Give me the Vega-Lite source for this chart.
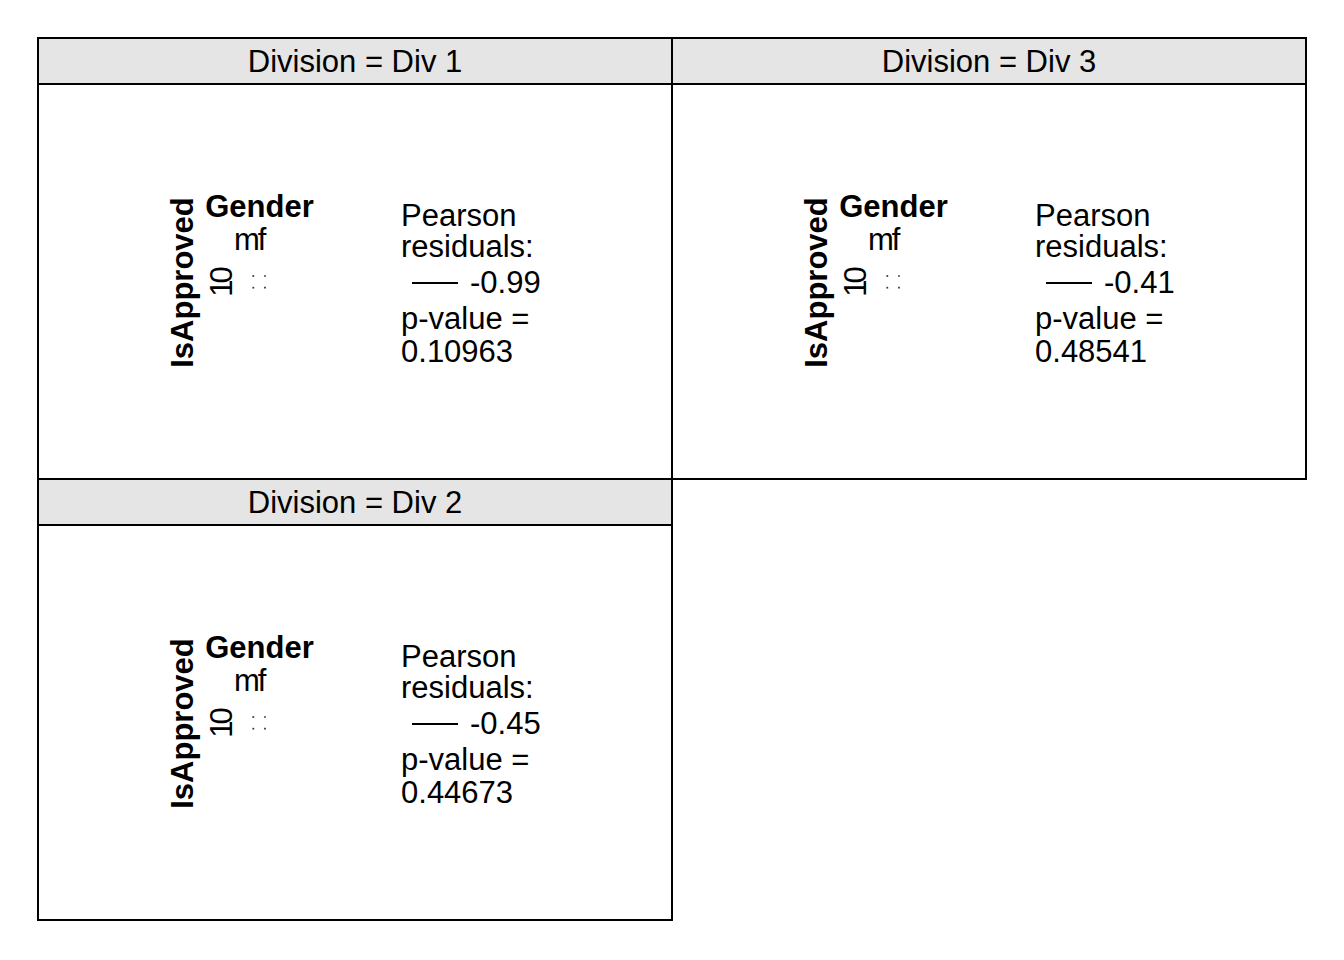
{
  "$schema": "https://vega.github.io/schema/vega-lite/v6.json",
  "background": "white",
  "padding": {"left": 36, "top": 36, "right": 0, "bottom": 0},
  "bounds": "flush",
  "config": {
    "view": {"stroke": "black", "strokeWidth": 2},
    "font": "Liberation Sans",
    "locale": {"number": {"decimal": ".", "thousands": ",", "grouping": [3], "currency": ["$", ""], "minus": "-"}},
    "text": {"font": "Liberation Sans", "fontSize": 31, "color": "black"},
    "facet": {"spacing": 0}
  },
  "data": {
    "values": [
      {"Division": "Div 1", "residual": -0.99, "p": 0.10963},
      {"Division": "Div 3", "residual": -0.41, "p": 0.48541},
      {"Division": "Div 2", "residual": -0.45, "p": 0.44673},
      {"Division": "Div 1", "Gender": "m", "IsApproved": "1"},
      {"Division": "Div 1", "Gender": "f", "IsApproved": "1"},
      {"Division": "Div 1", "Gender": "m", "IsApproved": "0"},
      {"Division": "Div 1", "Gender": "f", "IsApproved": "0"},
      {"Division": "Div 3", "Gender": "m", "IsApproved": "1"},
      {"Division": "Div 3", "Gender": "f", "IsApproved": "1"},
      {"Division": "Div 3", "Gender": "m", "IsApproved": "0"},
      {"Division": "Div 3", "Gender": "f", "IsApproved": "0"},
      {"Division": "Div 2", "Gender": "m", "IsApproved": "1"},
      {"Division": "Div 2", "Gender": "f", "IsApproved": "1"},
      {"Division": "Div 2", "Gender": "m", "IsApproved": "0"},
      {"Division": "Div 2", "Gender": "f", "IsApproved": "0"}
    ]
  },
  "facet": {"field": "Division", "type": "nominal", "sort": ["Div 1", "Div 3", "Div 2"], "title": null, "header": {"labelExpr": "''", "labelFontSize": 0, "labelColor": "transparent", "labelPadding": 0, "title": null}},
  "columns": 2,
  "spacing": 0,
  "spec": {
    "width": 634,
    "height": 441,
    "layer": [
      {
        "transform": [{"filter": {"field": "p", "valid": true}}],
        "mark": {"type": "rect", "fill": "#e5e5e5", "stroke": "black", "strokeWidth": 2},
        "encoding": {
          "x": {"datum": 0, "type": "quantitative", "scale": {"domain": [0, 1], "nice": false, "zero": false}, "axis": null},
          "x2": {"datum": 1},
          "y": {"datum": 0, "type": "quantitative", "scale": {"domain": [0, 1], "nice": false, "zero": false, "reverse": true}, "axis": null},
          "y2": {"datum": 0.1043}
        }
      },
      {
        "transform": [{"filter": {"field": "p", "valid": true}}, {"calculate": "'Division = ' + datum.Division", "as": "strip"}],
        "mark": {"type": "text", "align": "center", "baseline": "alphabetic"},
        "encoding": {
          "x": {"datum": 0.5, "type": "quantitative"},
          "y": {"datum": 0.0771, "type": "quantitative"},
          "text": {"field": "strip", "type": "nominal"}
        }
      },
      {
        "transform": [{"filter": {"field": "p", "valid": true}}],
        "mark": {"type": "text", "align": "center", "baseline": "alphabetic", "fontWeight": "bold", "text": "Gender"},
        "encoding": {
          "x": {"datum": 0.3494, "type": "quantitative"},
          "y": {"datum": 0.4059, "type": "quantitative"}
        }
      },
      {
        "transform": [{"filter": {"field": "p", "valid": true}}],
        "mark": {"type": "text", "align": "center", "baseline": "middle", "fontWeight": "bold", "angle": 270, "text": "IsApproved"},
        "encoding": {
          "x": {"datum": 0.2300, "type": "quantitative"},
          "y": {"datum": 0.5544, "type": "quantitative"}
        }
      },
      {
        "transform": [{"filter": "datum.Gender == 'm' && datum.IsApproved == '1'"}],
        "mark": {"type": "text", "align": "center", "baseline": "alphabetic"},
        "encoding": {
          "x": {"datum": 0.3297, "type": "quantitative"},
          "y": {"datum": 0.4807, "type": "quantitative"},
          "text": {"field": "Gender", "type": "nominal"}
        }
      },
      {
        "transform": [{"filter": "datum.Gender == 'f' && datum.IsApproved == '1'"}],
        "mark": {"type": "text", "align": "center", "baseline": "alphabetic"},
        "encoding": {
          "x": {"datum": 0.3533, "type": "quantitative"},
          "y": {"datum": 0.4807, "type": "quantitative"},
          "text": {"field": "Gender", "type": "nominal"}
        }
      },
      {
        "transform": [{"filter": "datum.Gender == 'm' && datum.IsApproved == '0'"}],
        "mark": {"type": "text", "align": "center", "baseline": "middle", "angle": 270},
        "encoding": {
          "x": {"datum": 0.2918, "type": "quantitative"},
          "y": {"datum": 0.5374, "type": "quantitative"},
          "text": {"field": "IsApproved", "type": "nominal"}
        }
      },
      {
        "transform": [{"filter": "datum.Gender == 'm' && datum.IsApproved == '1'"}],
        "mark": {"type": "text", "align": "center", "baseline": "middle", "angle": 270},
        "encoding": {
          "x": {"datum": 0.2918, "type": "quantitative"},
          "y": {"datum": 0.5669, "type": "quantitative"},
          "text": {"field": "IsApproved", "type": "nominal"}
        }
      },
      {
        "transform": [{"filter": "datum.Gender == 'm' && datum.IsApproved == '0'"}],
        "mark": {"type": "point", "shape": "square", "size": 3, "filled": true, "color": "#333333", "opacity": 1},
        "encoding": {
          "x": {"datum": 0.3396, "type": "quantitative"},
          "y": {"datum": 0.5397, "type": "quantitative"}
        }
      },
      {
        "transform": [{"filter": "datum.Gender == 'f' && datum.IsApproved == '0'"}],
        "mark": {"type": "point", "shape": "square", "size": 3, "filled": true, "color": "#333333", "opacity": 1},
        "encoding": {
          "x": {"datum": 0.3580, "type": "quantitative"},
          "y": {"datum": 0.5397, "type": "quantitative"}
        }
      },
      {
        "transform": [{"filter": "datum.Gender == 'm' && datum.IsApproved == '1'"}],
        "mark": {"type": "point", "shape": "square", "size": 3, "filled": true, "color": "#333333", "opacity": 1},
        "encoding": {
          "x": {"datum": 0.3396, "type": "quantitative"},
          "y": {"datum": 0.5662, "type": "quantitative"}
        }
      },
      {
        "transform": [{"filter": "datum.Gender == 'f' && datum.IsApproved == '1'"}],
        "mark": {"type": "point", "shape": "square", "size": 3, "filled": true, "color": "#333333", "opacity": 1},
        "encoding": {
          "x": {"datum": 0.3580, "type": "quantitative"},
          "y": {"datum": 0.5662, "type": "quantitative"}
        }
      },
      {
        "transform": [{"filter": {"field": "p", "valid": true}}],
        "mark": {"type": "text", "align": "left", "baseline": "alphabetic", "lineHeight": 31, "text": ["Pearson", "residuals:"]},
        "encoding": {
          "x": {"datum": 0.5726, "type": "quantitative"},
          "y": {"datum": 0.4263, "type": "quantitative"}
        }
      },
      {
        "transform": [{"filter": {"field": "p", "valid": true}}],
        "mark": {"type": "rule", "color": "black", "strokeWidth": 2},
        "encoding": {
          "x": {"datum": 0.5899, "type": "quantitative"},
          "x2": {"datum": 0.6625},
          "y": {"datum": 0.5556, "type": "quantitative"}
        }
      },
      {
        "transform": [{"filter": {"field": "p", "valid": true}}],
        "mark": {"type": "text", "align": "left", "baseline": "alphabetic"},
        "encoding": {
          "x": {"datum": 0.6814, "type": "quantitative"},
          "y": {"datum": 0.5782, "type": "quantitative"},
          "text": {"field": "residual", "type": "quantitative", "format": ".2f"}
        }
      },
      {
        "transform": [{"filter": {"field": "p", "valid": true}}],
        "mark": {"type": "text", "align": "left", "baseline": "alphabetic", "text": "p-value ="},
        "encoding": {
          "x": {"datum": 0.5726, "type": "quantitative"},
          "y": {"datum": 0.6599, "type": "quantitative"}
        }
      },
      {
        "transform": [{"filter": {"field": "p", "valid": true}}],
        "mark": {"type": "text", "align": "left", "baseline": "alphabetic"},
        "encoding": {
          "x": {"datum": 0.5726, "type": "quantitative"},
          "y": {"datum": 0.7347, "type": "quantitative"},
          "text": {"field": "p", "type": "quantitative", "format": ".5f"}
        }
      }
    ]
  }
}
